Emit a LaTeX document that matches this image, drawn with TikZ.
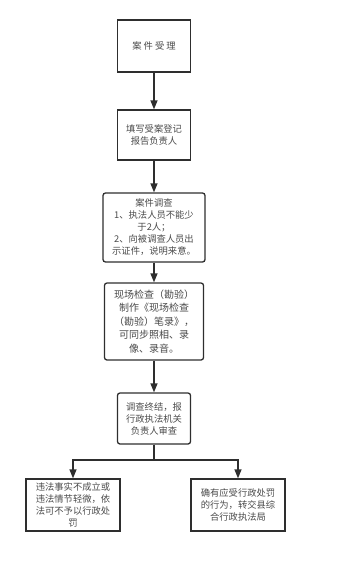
\documentclass[tikz,border=0pt]{standalone}
\usepackage{fontspec}
\setmainfont{Noto Sans CJK SC}
\usepackage{tikz}
\usetikzlibrary{arrows.meta}
\definecolor{linegray}{HTML}{2E2E2E}
\definecolor{textgray}{HTML}{4A4A4A}

\begin{document}
\begin{tikzpicture}[x=1pt, y=-1pt, >={Triangle[length=9pt,width=7pt]},
  box/.style={draw=linegray, line width=1.3pt, text=textgray, align=center,
    inner sep=2pt, font=\fontsize{9.3}{12}\selectfont},
  roundbox/.style={box, rounded corners=2.5pt},
  flow/.style={draw=linegray, line width=1.3pt, ->}]
  \useasboundingbox (0,0) rectangle (351,562);
  % main column
  \node[box, minimum width=73pt, minimum height=52pt] (accept) at (154,46) {案\ 件\ 受\ 理};
  \node[box, minimum width=73pt, minimum height=50pt] (record) at (154,135)
    {填写受案登记\\报告负责人};
  \node[roundbox, minimum width=102pt, minimum height=69pt] (survey) at (154,227.5)
    {案件调查\\1、执法人员不能少\\于2人；\\2、向被调查人员出\\示证件，说明来意。};
  \node[roundbox, minimum width=99pt, minimum height=77pt,
    font=\fontsize{10}{13.5}\selectfont] (inspect) at (154,321.5)
    {现场检查（勘验）\\制作《现场检查\\（勘验）笔录》，\\可同步照相、录\\像、录音。};
  \node[roundbox, minimum width=73pt, minimum height=51pt] (conclude) at (154,418.5)
    {调查终结，报\\行政执法机关\\负责人审查};
  % two outcomes
  \node[box, minimum width=94pt, minimum height=52pt] (dismiss) at (73,505)
    {违法事实不成立或\\违法情节轻微，依\\法可不予以行政处\\罚};
  \node[box, minimum width=94pt, minimum height=52pt] (transfer) at (238,505)
    {确有应受行政处罚\\的行为，转交县综\\合行政执法局};
  \coordinate (split) at (154,460);
  % connectors
  \draw[flow] (accept) -- (record);
  \draw[flow] (record) -- (survey);
  \draw[flow] (survey) -- (inspect);
  \draw[flow] (inspect) -- (conclude);
  \draw[flow] (conclude) -- (split) -| (dismiss);
  \draw[flow] (split) -| (transfer);
\end{tikzpicture}
\end{document}
